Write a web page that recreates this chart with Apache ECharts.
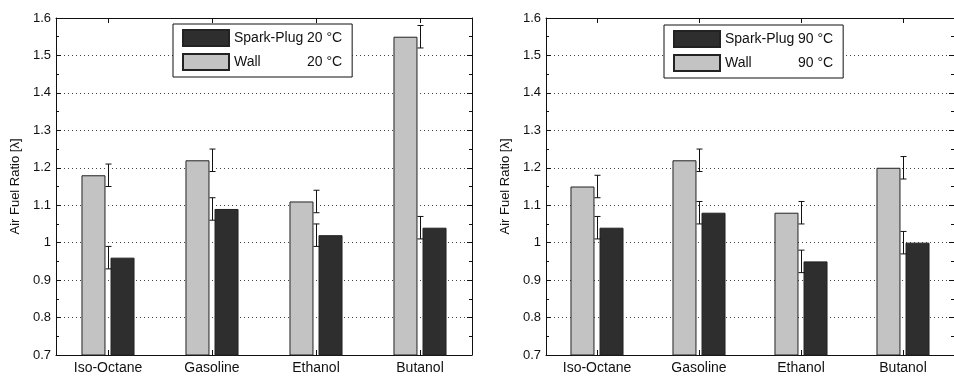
<!DOCTYPE html>
<html>
<head>
<meta charset="utf-8">
<script src="https://cdn.jsdelivr.net/npm/echarts@6/dist/echarts.min.js"></script>
<style>
  html, body { margin: 0; padding: 0; background: #fff; }
  #chart { width: 954px; height: 376px; }
</style>
</head>
<body>
<div id="chart"></div>
<script>
const categories = ["Iso-Octane", "Gasoline", "Ethanol", "Butanol"];
// 20 °C panel
const wall20 = [1.18, 1.22, 1.11, 1.55];
const wall20Err = [0.03, 0.03, 0.03, 0.03];
const plug20 = [0.96, 1.09, 1.02, 1.04];
const plug20Err = [0.03, 0.03, 0.03, 0.03];
// 90 °C panel
const wall90 = [1.15, 1.22, 1.08, 1.20];
const wall90Err = [0.03, 0.03, 0.03, 0.03];
const plug90 = [1.04, 1.08, 0.95, 1.00];
const plug90Err = [0.03, 0.03, 0.03, 0.03];
const yMin = 0.7, yMax = 1.6, yStep = 0.1;

const FONT = "Liberation Sans, Arial, sans-serif";
const LIGHT = "#c3c3c3";
const DARK = "#2e2e2e";
const INK = "#111";

const chart = echarts.init(document.getElementById("chart"), null, { renderer: "canvas" });

function errData(vals, errs) {
  return vals.map((v, i) => [i, v - errs[i], v + errs[i]]);
}

function errRender(params, api) {
  const x = api.value(0);
  const lo = api.coord([x, api.value(1)]);
  const hi = api.coord([x, api.value(2)]);
  const px = Math.round(lo[0]) + 0.5;
  const hw = 3;
  const style = { stroke: INK, lineWidth: 1 };
  return {
    type: "group",
    children: [
      { type: "line", shape: { x1: px, y1: lo[1], x2: px, y2: hi[1] }, style },
      { type: "line", shape: { x1: px - hw, y1: lo[1], x2: px + hw, y2: lo[1] }, style },
      { type: "line", shape: { x1: px - hw, y1: hi[1], x2: px + hw, y2: hi[1] }, style },
    ],
  };
}

function xAxes(gi) {
  const line = { show: true, lineStyle: { color: INK, width: 1 } };
  return [
    {
      gridIndex: gi, type: "category", data: categories, position: "bottom",
      axisLine: line,
      axisTick: { show: true, inside: true, alignWithLabel: true, length: 5, lineStyle: { color: INK } },
      axisLabel: { fontSize: 14, margin: 6, color: INK, fontFamily: FONT },
      splitLine: { show: false },
    },
    {
      gridIndex: gi, type: "category", data: categories, position: "top",
      axisLine: line,
      axisTick: { show: true, inside: true, alignWithLabel: true, length: 5, lineStyle: { color: INK } },
      axisLabel: { show: false },
      splitLine: { show: false },
    },
  ];
}

function yAxes(gi) {
  const common = {
    gridIndex: gi, type: "value", min: yMin, max: yMax, interval: yStep,
    axisLine: { show: true, lineStyle: { color: INK, width: 1 } },
    axisTick: { show: true, inside: true, length: 5, lineStyle: { color: INK } },
    minorTick: { show: true, splitNumber: 2, length: 3, lineStyle: { color: INK } },
  };
  return [
    Object.assign({}, common, {
      position: "left",
      name: "Air Fuel Ratio [λ]",
      nameLocation: "middle",
      nameGap: 34,
      nameTextStyle: { fontSize: 13, color: INK, fontFamily: FONT },
      axisLabel: {
        fontSize: 13, margin: 5, color: INK, fontFamily: FONT,
        formatter: (v) => String(+v.toFixed(2)),
      },
      splitLine: { show: true, lineStyle: { color: "#444", width: 1, type: [1, 3] } },
    }),
    Object.assign({}, common, {
      position: "right",
      axisLabel: { show: false },
      splitLine: { show: false },
    }),
  ];
}

function bars(name, vals, color, gi) {
  return {
    name, type: "bar", data: vals,
    xAxisIndex: gi * 2, yAxisIndex: gi * 2,
    barWidth: 24, barGap: "21%",
    itemStyle: { color, borderColor: "#222", borderWidth: 1 },
    z: 2, silent: true,
  };
}

function errs(vals, errsArr, gi) {
  return {
    type: "custom", data: errData(vals, errsArr),
    xAxisIndex: gi * 2, yAxisIndex: gi * 2,
    encode: { x: 0, y: [1, 2] },
    renderItem: errRender, z: 3, silent: true,
  };
}

function legend(left, top, names) {
  return {
    data: names, left, top, orient: "vertical",
    itemWidth: 46, itemHeight: 16, itemGap: 6, icon: "rect",
    padding: [5, 10, 6, 9],
    backgroundColor: "#fff", borderColor: INK, borderWidth: 1,
    selectedMode: false, z: 10,
    formatter: (n) => {
      const parts = n.split(" ");
      return "{n|" + parts[0] + "}{t|" + parts.slice(1).join(" ") + "}";
    },
    textStyle: {
      fontSize: 14, color: INK, fontFamily: FONT,
      rich: {
        n: { width: 73, fontSize: 14, color: INK, fontFamily: FONT },
        t: { fontSize: 14, color: INK, fontFamily: FONT },
      },
    },
  };
}

chart.setOption({
  animation: false,
  backgroundColor: "#fff",
  textStyle: { fontFamily: FONT },
  grid: [
    { left: 56, top: 18, width: 416, bottom: 21 },
    { left: 546, top: 18, width: 416, bottom: 21 },
  ],
  legend: [
    legend(173, 24, ["Spark-Plug 20 °C", "Wall 20 °C"]),
    legend(664, 25, ["Spark-Plug 90 °C", "Wall 90 °C"]),
  ],
  xAxis: [...xAxes(0), ...xAxes(1)],
  yAxis: [...yAxes(0), ...yAxes(1)],
  series: [
    bars("Wall 20 °C", wall20, LIGHT, 0),
    bars("Spark-Plug 20 °C", plug20, DARK, 0),
    errs(wall20, wall20Err, 0),
    errs(plug20, plug20Err, 0),
    bars("Wall 90 °C", wall90, LIGHT, 1),
    bars("Spark-Plug 90 °C", plug90, DARK, 1),
    errs(wall90, wall90Err, 1),
    errs(plug90, plug90Err, 1),
  ],
});
</script>
</body>
</html>
